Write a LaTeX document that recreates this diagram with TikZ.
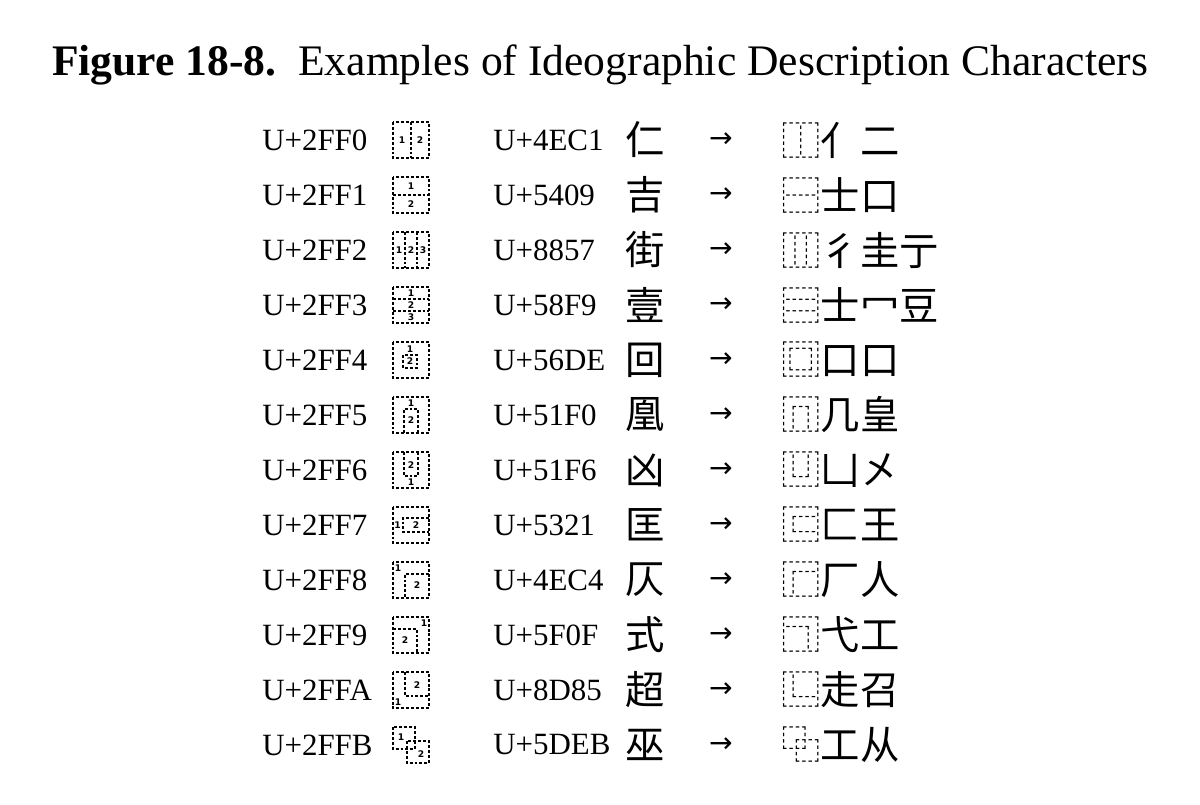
\documentclass[tikz,border=0pt]{standalone}
\usepackage{fontspec}
\setmainfont{Liberation Serif}
\newfontfamily\cjk{Noto Sans CJK SC}
\newfontfamily\numf{DejaVu Sans}
\begin{document}
\begin{tikzpicture}[x=0.025cm,y=-0.025cm,
  dbox/.style={dashed,dash pattern=on 2.1pt off 1.4pt,line width=0.85pt},
  num/.style={inner sep=0pt,font=\numf\bfseries\fontsize{6.5}{7}\selectfont},
  code/.style={anchor=west,inner sep=0pt,font=\fontsize{22}{24}\selectfont},
  han/.style={anchor=west,inner sep=0pt,font=\cjk\fontsize{28}{30}\selectfont}]
\useasboundingbox (0,0) rectangle (1200,804);
\node[font=\fontsize{31}{34}\selectfont] (title) at (600,65) {\textbf{Figure 18-8.}\ \ Examples of Ideographic Description Characters};
\foreach \a/\b/\c/\d [count=\i from 0] in {2FF0/4EC1/仁/⿰亻二,2FF1/5409/吉/⿱士口,2FF2/8857/街/⿲彳圭亍,2FF3/58F9/壹/⿳士冖豆,2FF4/56DE/回/⿴口口,2FF5/51F0/凰/⿵几皇,2FF6/51F6/凶/⿶凵㐅,2FF7/5321/匡/⿷匚王,2FF8/4EC4/仄/⿸厂人,2FF9/5F0F/式/⿹弋工,2FFA/8D85/超/⿺走召,2FFB/5DEB/巫/⿻工从}{
  \pgfmathsetmacro\yy{140+55*\i}
  \node[code] (c\i) at (262,\yy) {U+\a};
  \node[code] (u\i) at (493,\yy) {U+\b};
  \node[han] (h\i) at (625,\yy) {\c};
  \node[inner sep=0pt,font=\numf\fontsize{20}{24}\selectfont] (a\i) at (721,\yy) {→};
  \node[han] (d\i) at (781,\yy) {\d};
}
\begin{scope}[shift={(411,140)}]
\draw[dbox] (-18,-18) rectangle (18,18) (0,-18) -- (0,18);
\node[num] (n0a) at (-9,0) {1};\node[num] (n0b) at (9,0) {2};
\end{scope}
\begin{scope}[shift={(411,195)}]
\draw[dbox] (-18,-18) rectangle (18,18) (-18,0) -- (18,0);
\node[num] (n1a) at (0,-9) {1};\node[num] (n1b) at (0,9) {2};
\end{scope}
\begin{scope}[shift={(411,250)}]
\draw[dbox] (-18,-18) rectangle (18,18) (-6,-18) -- (-6,18) (6,-18) -- (6,18);
\node[num] (n2a) at (-12,0) {1};\node[num] (n2b) at (0,0) {2};\node[num] (n2c) at (12,0) {3};
\end{scope}
\begin{scope}[shift={(411,305)}]
\draw[dbox] (-18,-18) rectangle (18,18) (-18,-6) -- (18,-6) (-18,6) -- (18,6);
\node[num] (n3a) at (0,-12) {1};\node[num] (n3b) at (0,0) {2};\node[num] (n3c) at (0,12) {3};
\end{scope}
\begin{scope}[shift={(411,360)}]
\draw[dbox] (-18,-18) rectangle (18,18) (-8,-5) rectangle (6,8);
\node[num] (n4a) at (-1,-11) {1};\node[num] (n4b) at (-1,1.5) {2};
\end{scope}
\begin{scope}[shift={(411,415)}]
\draw[dbox] (-18,-18) rectangle (18,18) (-7,18) -- (-7,-6) -- (7,-6) -- (7,18);
\node[num] (n5a) at (0,-12) {1};\node[num] (n5b) at (0,5) {2};
\end{scope}
\begin{scope}[shift={(411,470)}]
\draw[dbox] (-18,-18) rectangle (18,18) (-7,-18) -- (-7,6) -- (7,6) -- (7,-18);
\node[num] (n6a) at (0,12) {1};\node[num] (n6b) at (0,-5) {2};
\end{scope}
\begin{scope}[shift={(411,525)}]
\draw[dbox] (-18,-18) rectangle (18,18) (18,-7) -- (-8,-7) -- (-8,7) -- (18,7);
\node[num] (n7a) at (-13.5,0) {1};\node[num] (n7b) at (5,0) {2};
\end{scope}
\begin{scope}[shift={(411,580)}]
\draw[dbox] (-18,-18) rectangle (18,18) (18,-6) -- (-6,-6) -- (-6,18);
\node[num] (n8a) at (-13,-12) {1};\node[num] (n8b) at (6,5) {2};
\end{scope}
\begin{scope}[shift={(411,635)}]
\draw[dbox] (-18,-18) rectangle (18,18) (-18,-6) -- (6,-6) -- (6,18);
\node[num] (n9a) at (13,-12) {1};\node[num] (n9b) at (-6,5) {2};
\end{scope}
\begin{scope}[shift={(411,690)}]
\draw[dbox] (-18,-18) rectangle (18,18) (-6,-18) -- (-6,6) -- (18,6);
\node[num] (n10a) at (-13,12) {1};\node[num] (n10b) at (6,-5) {2};
\end{scope}
\begin{scope}[shift={(411,745)}]
\draw[dbox] (-18,-18) rectangle (4,4) (-4,-4) rectangle (18,18);
\node[num] (n11a) at (-10,-8) {1};\node[num] (n11b) at (10,9) {2};
\end{scope}
\end{tikzpicture}
\end{document}
